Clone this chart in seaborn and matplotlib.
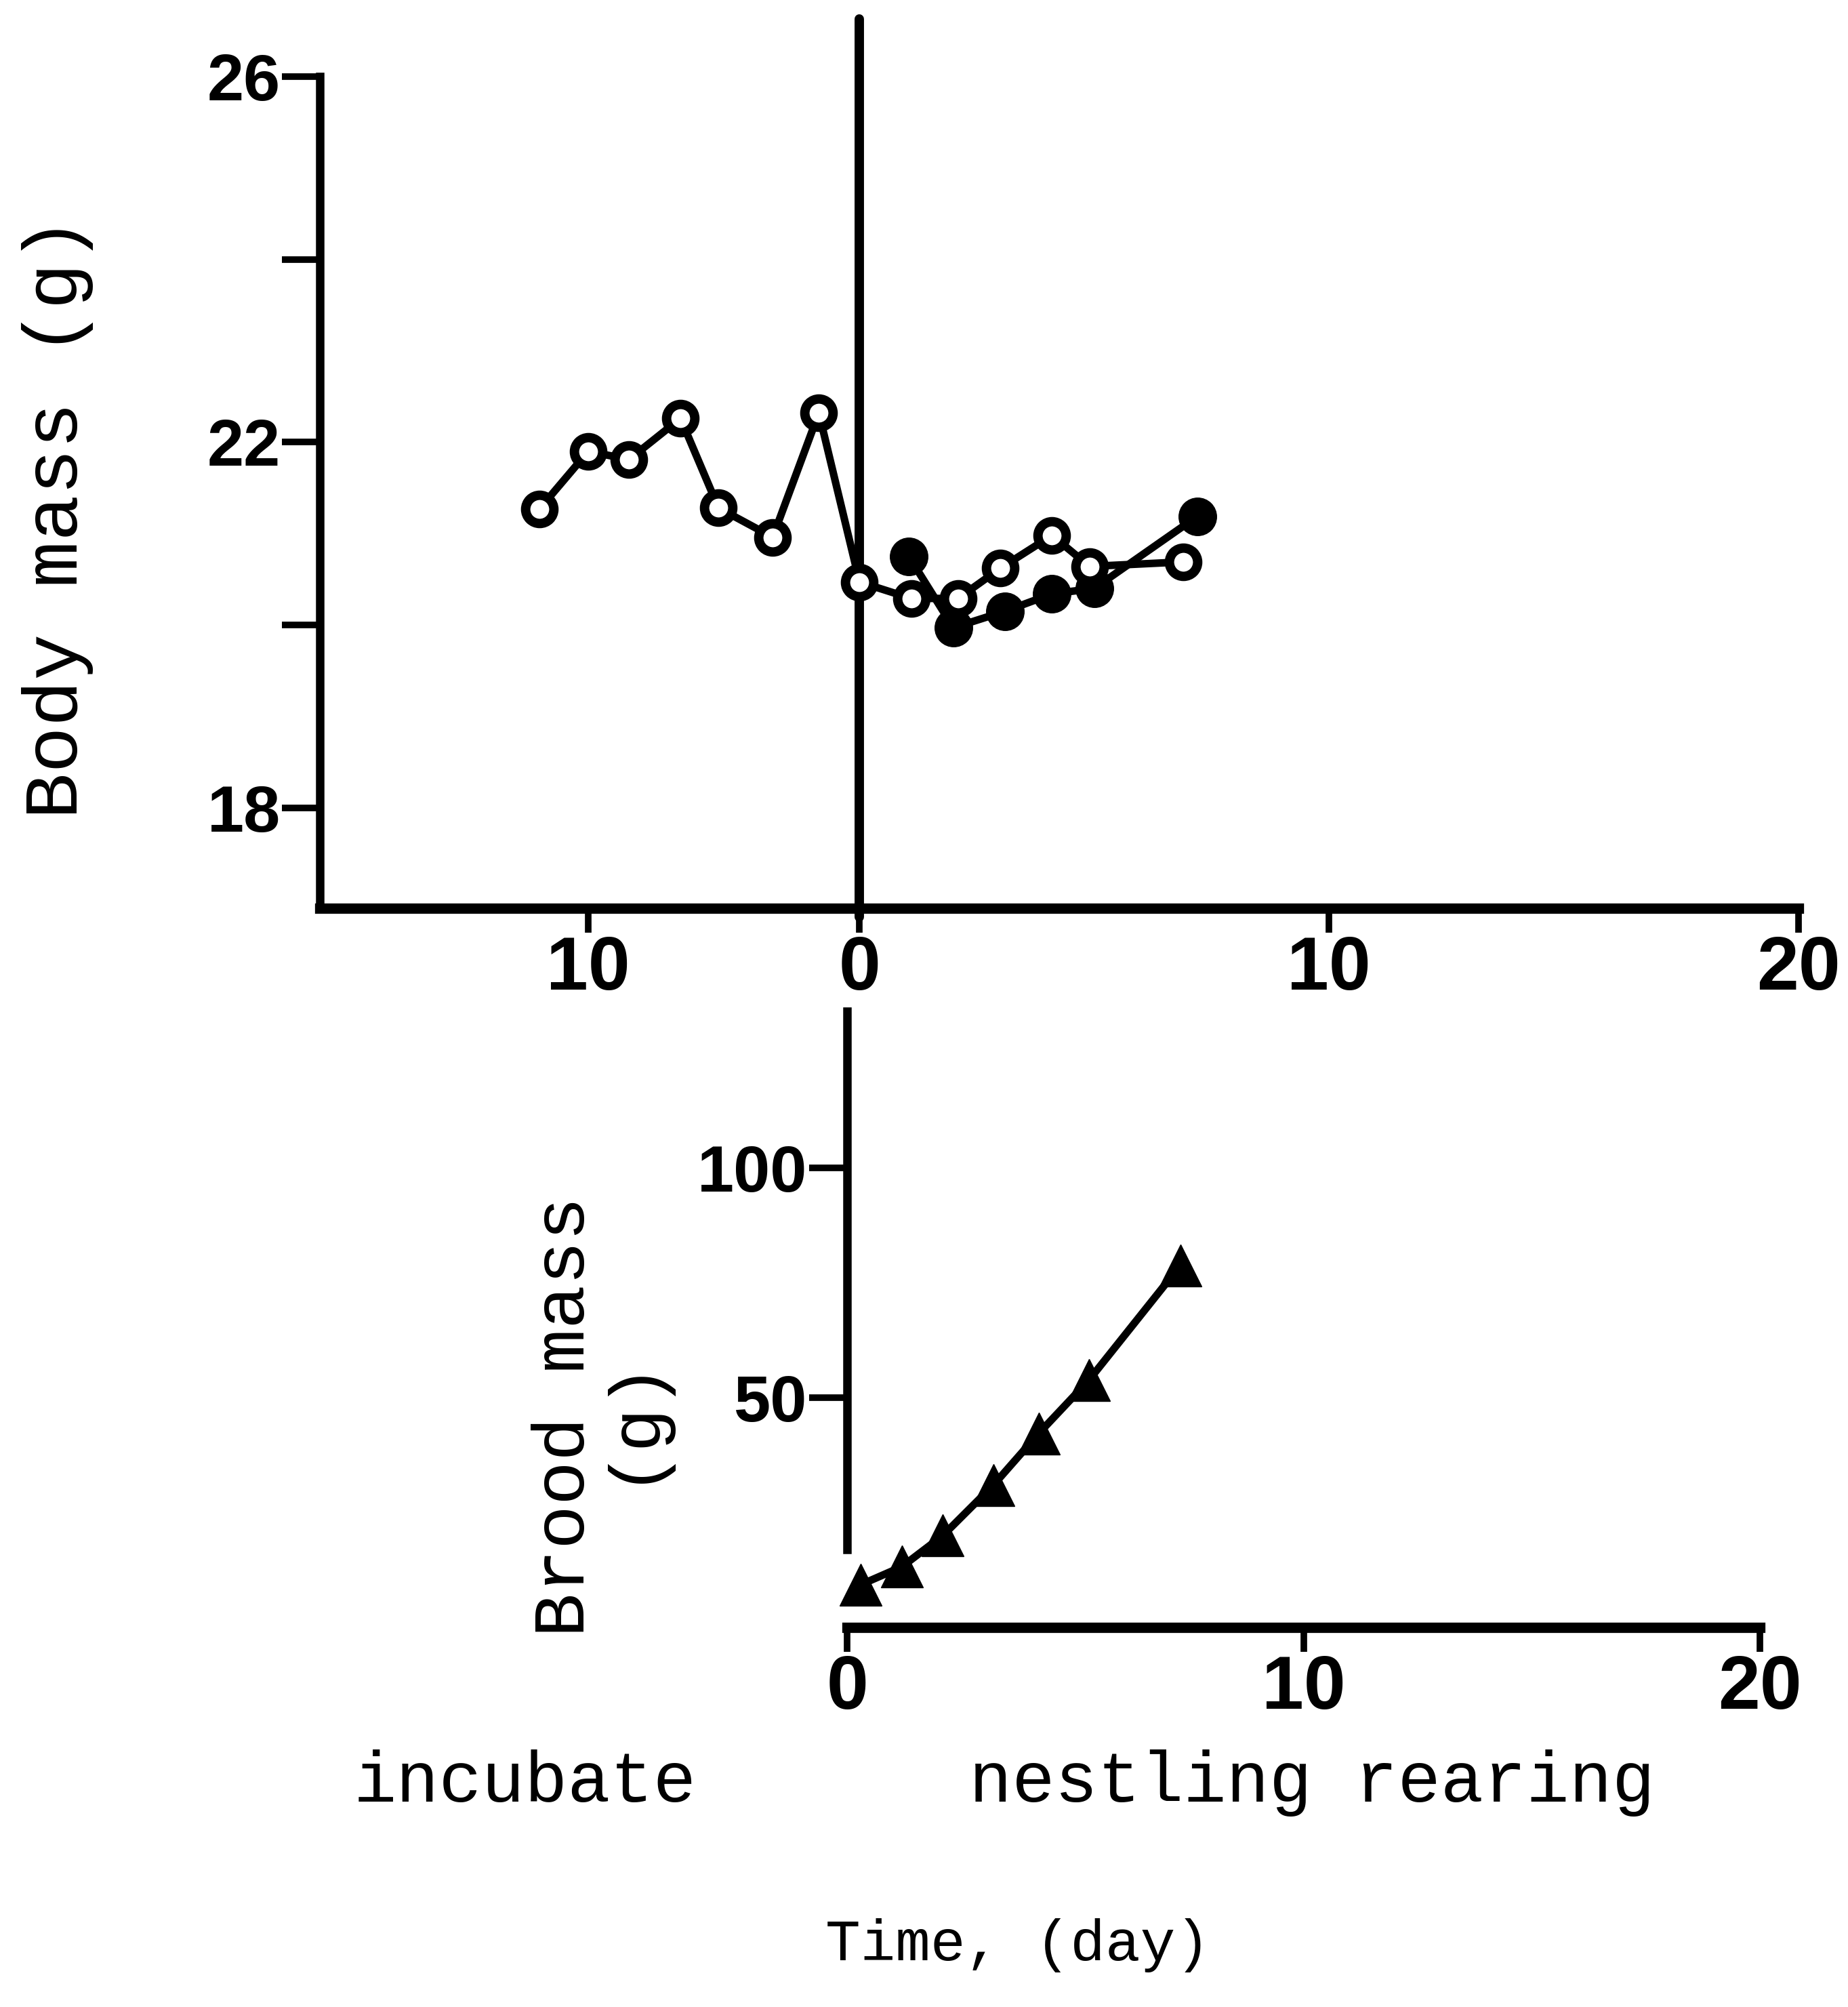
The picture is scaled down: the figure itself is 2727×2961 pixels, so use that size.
import numpy as np
import pandas as pd
import matplotlib.pyplot as plt
import seaborn as sns

# body mass of the adult, incubation (negative days) and nestling period
incub_day = [-11.8, -10.0, -8.5, -6.6, -5.2, -3.2, -1.5]
incub_mass = [21.27, 21.90, 21.81, 22.26, 21.28, 20.96, 22.32]
open_day = [0.0, 1.1, 2.1, 3.0, 4.1, 4.9, 6.9]
open_mass = [20.47, 20.29, 20.29, 20.62, 20.98, 20.64, 20.69]
filled_day = [1.05, 2.0, 3.1, 4.1, 5.0, 7.2]
filled_mass = [20.75, 19.97, 20.15, 20.34, 20.40, 21.19]

# brood mass during nestling rearing
brood_day = [0.3, 1.2, 2.1, 3.2, 4.2, 5.3, 7.3]
brood_mass = [9.3, 13.2, 20.0, 30.9, 42.2, 53.8, 78.7]

top_yticks = [18, 20, 22, 24, 26]
top_ylabels = ['18', '', '22', '', '26']
top_xticks = [-10, 0, 10, 20]
top_xlabels = ['10', '0', '10', '20']
bot_yticks = [50, 100]
bot_xticks = [0, 10, 20]

df_open = pd.DataFrame({'day': incub_day + open_day, 'mass': incub_mass + open_mass})
df_fill = pd.DataFrame({'day': filled_day, 'mass': filled_mass})
df_brood = pd.DataFrame({'day': brood_day, 'mass': brood_mass})

sns.set_style('white')
plt.rcParams['text.color'] = 'black'
plt.rcParams['xtick.color'] = 'black'
plt.rcParams['ytick.color'] = 'black'
MONO = ['Liberation Mono', 'DejaVu Sans Mono']
NUM = ['Liberation Sans', 'DejaVu Sans']
NARROW = ['Liberation Sans Narrow', 'Liberation Sans']

# incubation days are drawn on a compressed scale
LEFT = 40 / 69.25


def fwd(x):
    x = np.asarray(x, dtype=float)
    return np.where(x < 0, x * LEFT, x)


def inv(x):
    x = np.asarray(x, dtype=float)
    return np.where(x < 0, x / LEFT, x)


W, H = 2727, 2961
fig = plt.figure(figsize=(W / 100, H / 100), dpi=100)
ax1 = fig.add_axes([472 / W, 1 - 1340 / H, 2182 / W, 1312 / H])
ax2 = fig.add_axes([1250 / W, 1 - 2401 / H, 1347 / W, 909 / H])

# ---- top panel: body mass
ax1.set_xscale('function', functions=(fwd, inv))
ax1.axvline(0, ymin=-0.01, color='black', lw=10, zorder=1, clip_on=False)
sns.lineplot(data=df_open, x='day', y='mass', ax=ax1, sort=False, estimator=None,
             color='black', lw=8, marker='o', ms=30, mfc='white', mec='black',
             mew=10, zorder=3, clip_on=False)
sns.lineplot(data=df_fill, x='day', y='mass', ax=ax1, sort=False, estimator=None,
             color='black', lw=8, marker='o', ms=40, mfc='black', mec='black',
             mew=1, zorder=2, clip_on=False)
ax1.set_xlim(-19.9, 20)
ax1.set_ylim(16.9, 26.63)
ax1.set_yticks(top_yticks, top_ylabels)
ax1.set_xticks(top_xticks, top_xlabels)
ax1.set_xlabel('')
ax1.set_ylabel('')

# ---- bottom panel: brood mass
sns.lineplot(data=df_brood, x='day', y='mass', ax=ax2, sort=False, estimator=None,
             color='black', lw=8, marker='^', ms=44, mfc='black', mec='black',
             mew=1, clip_on=False)
ax2.set_xlim(0, 20)
ax2.set_ylim(0, 134)
ax2.set_yticks(bot_yticks, [str(v) for v in bot_yticks])
ax2.set_xticks(bot_xticks, [str(v) for v in bot_xticks])
ax2.set_xlabel('')
ax2.set_ylabel('')

for ax in (ax1, ax2):
    for s in ('top', 'right'):
        ax.spines[s].set_visible(False)
    ax.spines['left'].set_linewidth(9)
    ax.spines['bottom'].set_linewidth(11)
    ax.spines['left'].set_color('black')
    ax.spines['bottom'].set_color('black')
    ax.tick_params(axis='y', direction='out', length=40, width=7, pad=2,
                   labelsize=70, left=True)
    ax.tick_params(axis='x', direction='out', length=26, width=7, pad=2,
                   labelsize=80, bottom=True)
    for lbl in ax.get_yticklabels():
        lbl.set_family(NUM)
        lbl.set_fontweight('bold')
    for lbl in ax.get_xticklabels():
        lbl.set_family(NARROW)
        lbl.set_fontweight('bold')

ax1.spines['left'].set_bounds(16.9, 26)
ax2.spines['left'].set_bounds(17, 134)

fig.text(0.0312, 0.742, 'Body mass (g)', rotation=90, ha='center', va='center',
         family=MONO, fontsize=82)
fig.text(0.3234, 0.294, 'Brood mass\n(g)', rotation=90, ha='center', va='center',
         family=MONO, fontsize=78, linespacing=0.95, multialignment='center')
fig.text(0.284, 0.1116, 'incubate', ha='center', va='center', family=MONO, fontsize=76)
fig.text(0.710, 0.1116, 'nestling rearing', ha='center', va='center', family=MONO, fontsize=76)
fig.text(0.5506, 0.0306, 'Time, (day)', ha='center', va='center', family=MONO, fontsize=62)

fig.savefig('out.png', dpi=100, facecolor='white')
